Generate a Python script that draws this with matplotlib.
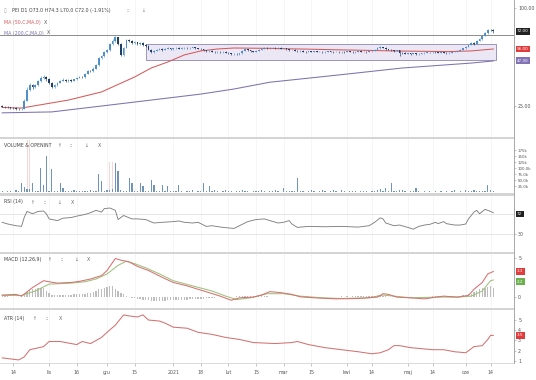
import numpy as np
import pandas as pd
import matplotlib
matplotlib.use("Agg")
import matplotlib.pyplot as plt
from matplotlib.patches import Rectangle
from matplotlib.lines import Line2D
from matplotlib.ticker import NullLocator
import matplotlib.transforms as mtrans

# ---------------- data ----------------
dates = pd.bdate_range("2020-10-08", "2021-06-15")

closes = [24.8, 24.6, 24.5, 24.3, 24.2, 24.0, 23.9, 24.0,
          27.0, 31.5, 33.5, 32.8, 33.6,
          35.5, 37.0, 37.8, 36.5,
          34.5, 32.8, 33.5, 34.8,
          35.8, 36.3, 35.6, 36.0, 35.7,
          36.4, 37.2, 37.8, 37.5,
          39.5, 41.2, 41.0,
          42.5, 44.5,
          49.0, 50.5,
          53.5, 55.0,
          60.0, 63.0, 66.0,
          60.5, 51.8, 57.0,
          63.5, 62.5,
          61.0, 61.5, 60.2, 60.8,
          59.5, 58.8,
          55.5, 53.5, 54.8, 55.6, 56.0, 55.3,
          56.2, 56.8, 56.0, 56.5, 57.0, 56.4, 56.8, 57.2, 56.6, 56.9, 57.3, 56.7, 56.1, 55.8,
          55.0, 54.2, 54.6, 54.0,
          53.6, 53.9, 53.4, 53.8, 53.2,
          52.6, 52.0, 52.4, 52.1, 52.8, 54.5, 55.8,
          55.2, 54.3, 53.8, 54.6,
          55.5, 56.3, 57.0, 56.5, 56.9,
          57.2, 56.6, 57.0, 56.2, 56.5, 55.8, 55.2, 55.6, 54.8, 54.2, 54.6,
          54.0, 53.6, 54.1, 53.8, 54.2, 53.7, 54.0, 53.5, 53.9, 54.2, 53.8,
          53.6, 54.0, 53.4, 53.9, 53.6, 54.2, 53.8, 53.5, 53.9, 54.3, 53.7, 54.0, 53.6, 54.1, 54.5, 55.2,
          56.8, 57.6, 57.0, 56.0,
          55.4, 55.0, 54.5, 55.2,
          53.2,
          53.0, 52.5, 52.8, 52.2, 52.6, 52.0, 52.4, 52.8,
          53.2, 53.6, 53.4, 53.8, 53.3, 53.0, 53.5, 53.2, 52.8, 53.1, 53.6, 54.0, 54.6, 55.4,
          56.5, 57.8, 59.5, 61.0,
          60.2, 63.0, 64.5,
          67.5, 70.0, 73.5,
          73.4, 72.0]
first_open = 25.0
last_open = 73.0

highs = [25.3, 25.0, 24.9, 24.8, 24.6, 24.5, 24.3, 24.4, 27.5, 32.5,
         34.5, 34.2, 34.3, 36.2, 38.0, 38.6, 38.2, 36.9, 35.0, 34.0,
         35.2, 36.3, 36.9, 36.6, 36.5, 36.4, 36.8, 37.6, 38.3, 38.2,
         40.0, 41.8, 41.9, 43.2, 45.3, 49.8, 51.6, 54.4, 56.3, 61.0,
         64.5, 67.5, 66.8, 61.2, 58.0, 64.5, 64.8, 63.3, 62.6, 62.2,
         61.7, 61.4, 60.3, 59.2, 56.2, 55.5, 56.3, 56.8, 56.5, 56.8,
         57.4, 57.2, 57.0, 57.6, 57.4, 57.3, 57.8, 57.6, 57.4, 57.9,
         57.7, 57.1, 56.5, 56.2, 55.4, 55.1, 55.0, 54.4, 54.4, 54.3,
         54.2, 54.1, 53.6, 53.0, 52.9, 52.8, 53.2, 55.0, 56.4, 56.2,
         55.6, 54.7, 55.0, 56.0, 56.8, 57.5, 57.4, 57.4, 57.7, 57.6,
         57.5, 57.3, 57.0, 56.8, 56.1, 56.0, 55.9, 55.2, 55.0, 54.9,
         54.3, 54.5, 54.4, 54.6, 54.5, 54.4, 54.3, 54.3, 54.6, 54.5,
         54.1, 54.4, 54.3, 54.3, 54.2, 54.6, 54.5, 54.1, 54.3, 54.7,
         54.6, 54.4, 54.3, 54.5, 55.0, 55.7, 57.3, 58.3, 58.0, 57.3,
         56.4, 55.8, 55.4, 55.6, 55.5, 53.7, 53.4, 53.2, 53.1, 53.0,
         52.9, 52.8, 53.2, 53.6, 54.0, 53.9, 54.2, 54.1, 53.6, 53.9,
         53.8, 53.5, 53.5, 54.0, 54.4, 55.0, 55.9, 57.0, 58.3, 60.1,
         61.7, 61.6, 63.6, 65.3, 68.2, 71.0, 74.6, 74.8, 74.3]

lows = [24.5, 24.3, 24.2, 24.0, 23.9, 23.7, 23.6, 23.6, 23.9, 26.8,
        31.0, 32.0, 32.4, 33.3, 35.0, 36.5, 35.8, 34.0, 32.2, 32.4,
        33.2, 34.5, 35.4, 35.1, 35.2, 35.3, 35.4, 36.1, 36.9, 37.0,
        37.3, 39.2, 40.4, 40.7, 42.2, 44.2, 48.4, 50.0, 52.8, 54.6,
        59.2, 62.0, 59.0, 50.5, 51.0, 56.5, 61.5, 60.2, 60.3, 59.4,
        59.6, 58.8, 58.0, 55.0, 52.8, 53.0, 54.3, 55.1, 54.8, 55.0,
        55.8, 55.6, 55.6, 56.1, 56.0, 56.0, 56.4, 56.2, 56.2, 56.5,
        56.3, 55.7, 55.3, 54.6, 53.8, 53.9, 53.6, 53.2, 53.2, 53.0,
        53.0, 52.8, 52.2, 51.6, 51.6, 51.7, 51.8, 52.5, 54.2, 54.8,
        53.9, 53.4, 53.5, 54.3, 55.2, 56.0, 56.1, 56.2, 56.6, 56.2,
        56.3, 55.8, 55.9, 55.4, 54.8, 54.9, 54.4, 53.8, 53.9, 53.6,
        53.2, 53.3, 53.4, 53.5, 53.3, 53.4, 53.1, 53.2, 53.6, 53.4,
        53.2, 53.3, 53.0, 53.1, 53.2, 53.3, 53.4, 53.1, 53.2, 53.6,
        53.3, 53.4, 53.2, 53.3, 53.8, 54.2, 55.0, 56.4, 56.5, 55.6,
        55.0, 54.6, 54.0, 54.2, 50.5, 52.5, 52.1, 52.1, 51.8, 51.9,
        51.6, 51.7, 52.0, 52.5, 52.9, 53.0, 53.0, 52.9, 52.6, 52.7,
        52.8, 52.4, 52.5, 52.8, 53.3, 53.7, 54.3, 55.1, 56.2, 57.4,
        59.1, 59.5, 59.8, 62.5, 64.0, 67.0, 69.5, 72.5, 70.0]

volume_k = [3, 2, 5, 3, 2, 10, 3, 38, 20, 12,
            14, 38, 4, 5, 102, 30, 152, 6, 95, 5,
            4, 38, 16, 3, 3, 4, 10, 3, 3, 3,
            4, 3, 10, 4, 5, 73, 45, 6, 8, 10,
            12, 123, 87, 8, 6, 5, 59, 38, 5, 4,
            38, 24, 4, 5, 52, 30, 4, 3, 30, 3,
            24, 3, 3, 4, 30, 3, 2, 3, 3, 10,
            2, 3, 3, 38, 4, 24, 3, 10, 3, 2,
            3, 10, 3, 3, 2, 3, 3, 10, 4, 3,
            2, 3, 3, 3, 10, 3, 2, 3, 3, 10,
            3, 2, 17, 3, 3, 4, 5, 59, 3, 3,
            2, 3, 7, 3, 2, 3, 7, 3, 2, 3,
            7, 3, 2, 7, 3, 2, 3, 6, 3, 2,
            3, 6, 3, 2, 6, 3, 8, 12, 5, 16,
            6, 38, 5, 3, 8, 10, 3, 2, 3, 3,
            16, 3, 2, 3, 2, 3, 2, 3, 2, 5,
            2, 3, 2, 3, 7, 2, 3, 2, 7, 3,
            4, 7, 4, 5, 3, 6, 30, 10, 4]
openint_idx = [9, 10, 39, 40]
openint_k = [218, 218, 125, 125]

ma50_idx = [0, 7, 24, 36, 48, 54, 60, 66, 72, 78, 84, 97, 119, 144, 162, 170, 178]
ma50_val = [24.5, 24.3, 27.2, 30.5, 37.7, 42.8, 46.6, 51.5, 54.5, 56.0, 56.8, 56.5, 55.5, 54.4, 54.0, 54.5, 56.0]
ma200_idx = [0, 18, 36, 54, 72, 84, 97, 122, 145, 170, 178]
ma200_val = [22.7, 23.0, 25.0, 27.2, 29.6, 31.8, 35.0, 38.8, 42.8, 45.9, 47.3]

box_start, box_end = 52, 179
box_low, box_high = 47.8, 60.5
resistance = 68.2

rsi_idx = [0, 2, 5, 7, 8, 9, 11, 13, 15, 16, 17, 20, 22, 25, 27, 30, 32, 34, 36, 37, 39, 41, 42, 44,
           47, 49, 52, 55, 58, 62, 64, 66, 69, 71, 74, 76, 80, 84, 86, 89, 92, 95, 97, 100, 102,
           104, 105, 107, 111, 117, 123, 129, 133, 135, 137, 138, 139, 142, 144, 147, 149, 151,
           153, 155, 157, 158, 160, 161, 164, 166, 168, 169, 171, 172, 173, 175, 177, 178]
rsi_val = [53.4, 50.0, 46.6, 45.2, 63.6, 75.2, 70.5, 75.2, 75.9, 70.5, 60.2, 56.8, 61.6, 63.0, 65.7,
           69.1, 72.5, 77.3, 73.9, 80.7, 82.0, 77.3, 58.9, 67.0, 60.2, 60.2, 58.9, 52.0, 53.4, 54.8,
           56.1, 53.4, 52.0, 53.4, 45.2, 46.6, 43.2, 41.1, 46.6, 54.8, 58.9, 60.2, 56.8, 52.0, 53.4,
           56.8, 50.0, 43.2, 45.2, 44.5, 45.2, 43.8, 46.6, 53.4, 62.3, 60.2, 52.0, 46.6, 47.9, 43.2,
           39.7, 45.2, 47.9, 49.3, 53.4, 50.7, 54.8, 50.7, 47.9, 47.9, 50.0, 60.2, 73.9, 77.3, 70.5,
           79.3, 75.2, 72.5]

macd_idx = [0, 5, 7, 11, 15, 17, 20, 25, 28, 32, 36, 38, 41, 43, 46, 49, 53, 58, 62, 67, 71, 75, 79,
            83, 86, 91, 94, 97, 101, 105, 108, 113, 121, 129, 136, 138, 140, 143, 148, 153, 158,
            160, 165, 169, 171, 174, 176, 178]
macd_val = [0.19, 0.28, 0.05, 1.18, 2.08, 1.94, 1.76, 1.85, 1.99, 2.30, 2.75, 3.42, 5.00, 4.78, 4.55,
            3.96, 3.42, 2.52, 1.85, 1.40, 0.95, 0.51, 0.05, -0.49, -0.17, -0.08, 0.19, 0.64, 0.51,
            0.28, -0.04, -0.17, -0.31, -0.26, -0.08, 0.37, 0.28, -0.08, -0.17, -0.31, -0.04, 0.05,
            -0.08, 0.14, 0.95, 1.85, 2.97, 3.29]
signal_idx = [0, 7, 12, 17, 25, 30, 34, 38, 42, 45, 48, 52, 57, 62, 69, 76, 81, 85, 90, 96, 102,
              108, 116, 123, 133, 138, 142, 148, 158, 165, 170, 174, 177, 178]
signal_val = [0.14, 0.14, 0.73, 1.63, 1.76, 1.94, 2.30, 2.97, 4.10, 4.64, 4.32, 3.78, 2.97, 2.08,
              1.40, 0.73, 0.05, -0.40, -0.17, 0.37, 0.37, 0.05, -0.17, -0.26, -0.17, 0.19, 0.05,
              -0.17, -0.08, -0.08, 0.05, 0.73, 2.08, 2.17]
hist_val = [0.02, 0.02, 0.01, 0.0, 0.0, -0.01, 0.0, 0.05, 0.28, 0.65,
            0.85, 0.95, 1.05, 1.15, 1.18, 1.1, 0.75, 0.4, 0.25, 0.2,
            0.18, 0.17, 0.18, 0.2, 0.19, 0.22, 0.28, 0.3, 0.33, 0.35,
            0.37, 0.4, 0.45, 0.6, 0.75, 0.95, 1.05, 1.18, 1.27, 1.4,
            1.35, 1.0, 0.7, 0.45, 0.28, 0.08, -0.05, -0.15, -0.26, -0.32,
            -0.36, -0.4, -0.45, -0.5, -0.53, -0.57, -0.6, -0.62, -0.58, -0.53,
            -0.51, -0.49, -0.48, -0.46, -0.45, -0.44, -0.42, -0.4, -0.38, -0.35,
            -0.33, -0.31, -0.29, -0.27, -0.26, -0.22, -0.18, -0.15, -0.12, -0.1,
            -0.08, -0.06, -0.04, -0.02, 0.0, 0.02, 0.05, 0.08, 0.1, 0.12,
            0.12, 0.1, 0.08, 0.06, 0.05, 0.03, 0.02, 0.0, -0.02, -0.03,
            -0.04, -0.03, -0.02, -0.04, -0.05, -0.06, -0.05, -0.04, -0.05, -0.04,
            -0.03, -0.03, -0.02, -0.03, -0.02, -0.02, -0.01, -0.02, -0.01, 0.0,
            0.0, -0.01, 0.0, 0.01, 0.0, 0.01, 0.0, 0.01, 0.02, 0.01,
            0.02, 0.01, 0.02, 0.04, 0.08, 0.12, 0.16, 0.15, 0.1, 0.04,
            -0.02, -0.05, -0.07, -0.08, -0.1, -0.1, -0.09, -0.08, -0.07, -0.06,
            -0.05, -0.04, -0.03, -0.02, -0.01, 0.0, 0.01, 0.02, 0.03, 0.03,
            0.04, 0.04, 0.05, 0.05, 0.06, 0.08, 0.1, 0.14, 0.2, 0.3,
            0.37, 0.55, 0.73, 0.95, 1.1, 1.18, 1.27, 1.4, 1.18]

atr_idx = [0, 6, 8, 10, 15, 17, 21, 25, 27, 29, 32, 36, 38, 41, 44, 46, 49, 51, 53, 57, 59, 62, 67,
           71, 76, 81, 86, 91, 99, 105, 107, 111, 117, 123, 129, 134, 137, 140, 142, 144, 148, 152,
           156, 160, 164, 168, 169, 171, 174, 176, 177, 178]
atr_val = [1.3, 1.1, 1.4, 2.1, 2.4, 2.9, 2.9, 2.7, 2.6, 2.9, 2.7, 3.3, 3.8, 4.5, 5.5, 5.4, 5.3, 5.5,
           5.0, 4.9, 4.7, 4.3, 4.2, 3.8, 3.6, 3.3, 3.1, 2.8, 2.7, 2.8, 2.9, 2.6, 2.3, 2.1, 1.9, 1.7,
           1.8, 2.1, 2.5, 2.5, 2.3, 2.2, 2.1, 2.1, 1.9, 1.8, 2.0, 2.4, 2.5, 3.1, 3.5, 3.5]

tick_dates = ["2020-10-14", "2020-11-02", "2020-11-16", "2020-12-01", "2020-12-15", "2021-01-04",
              "2021-01-18", "2021-02-01", "2021-02-15", "2021-03-01", "2021-03-15", "2021-04-01",
              "2021-04-14", "2021-05-03", "2021-05-14", "2021-06-01", "2021-06-14"]
tick_labels = ["14", "lis", "16", "gru", "15", "2021", "18", "lut", "15", "mar", "15", "kwi",
               "14", "maj", "14", "cze", "14"]

header = "PEI D1 O73.0 H74.3 L70.0 C72.0 (-1.91%)"

# ---------------- figure ----------------
W, H = 536, 380
fig = plt.figure(figsize=(W / 100, H / 100), dpi=100)
fig.patch.set_facecolor("white")
RIGHT = 514
FS = 3.4
TXT = "#444444"

n = len(closes)
x = np.arange(n)
opens = [first_open] + closes[:-1]
opens[-1] = last_open
tick_pos = [int(dates.searchsorted(pd.Timestamp(d))) for d in tick_dates]


def panel(top, bottom):
    ax = fig.add_axes([0, 1 - bottom / H, RIGHT / W, (bottom - top) / H])
    ax.set_facecolor("none")
    for s in ax.spines.values():
        s.set_visible(False)
    ax.yaxis.tick_right()
    ax.tick_params(axis="y", which="both", direction="out", length=1.5, width=0.4,
                   colors="#999999", labelsize=FS, pad=1.5, labelcolor="#555555")
    ax.set_xlim(-0.8, 185.5)
    ax.set_xticks(tick_pos)
    ax.tick_params(axis="x", which="both", bottom=False, labelbottom=False)
    ax.grid(axis="x", color="#f1f1f1", lw=0.5)
    ax.set_axisbelow(True)
    return ax


def value_box(ax, y, text, fc, tc="white"):
    tr = mtrans.blended_transform_factory(ax.transAxes, ax.transData)
    ax.text(1.006, y, text, transform=tr, fontsize=3.0, color=tc, va="center", ha="left",
            clip_on=False, bbox=dict(boxstyle="square,pad=0.35", fc=fc, ec="none"))


def ftext(px, py, s, color=TXT, size=FS, **kw):
    fig.text(px / W, 1 - py / H, s, fontsize=size, color=color, va="center", ha="left", **kw)


# price panel
axp = panel(0, 137)
axp.set_yscale("log")
axp.set_ylim(16.13, 112.0)
axp.yaxis.set_minor_locator(NullLocator())
axp.set_yticks([25, 100])
axp.set_yticklabels(["25.00", "100.00"])
axp.add_patch(Rectangle((box_start, box_low), box_end - box_start, box_high - box_low,
                        facecolor="#ebe7f5", edgecolor="#8f86ad", lw=0.6, zorder=1))
axp.axhline(resistance, color="#7a7a7a", lw=0.6, zorder=2)
axp.plot(ma200_idx, ma200_val, color="#7e72ad", lw=0.75, zorder=3)
axp.plot(ma50_idx, ma50_val, color="#d65a5a", lw=0.75, zorder=3)
up = np.array(closes) >= np.array(opens)
ccol = np.where(up, "#4f8fca", "#1f3f66")
axp.vlines(x, lows, highs, colors=ccol, lw=0.45, zorder=4)
axp.bar(x, np.array(closes) - np.array(opens), bottom=opens, width=0.62, color=ccol,
        lw=0, zorder=5)
value_box(axp, closes[-1], f"{closes[-1]:.2f}", "#222222")
value_box(axp, ma50_val[-1], f"{ma50_val[-1]:.2f}", "#e03c3c")
value_box(axp, ma200_val[-1], f"{ma200_val[-1]:.2f}", "#8173b5")

# volume panel
axv = panel(139, 192)
axv.set_ylim(0, 221)
axv.bar(openint_idx, openint_k, width=0.35, color="#f3d6d6", lw=0, zorder=2)
axv.bar(x, volume_k, width=0.45, color="#6f94b8", lw=0, zorder=3)
axv.set_yticks([25, 50, 75, 100, 125, 150, 175])
axv.set_yticklabels(["25.0k", "50.0k", "75.0k", "100.0k", "125k", "150k", "175k"])
axv.tick_params(axis="y", labelsize=2.9, pad=1.2)

# RSI panel
axr = panel(196, 252)
axr.set_ylim(-6, 106)
axr.axhline(70, color="#dddddd", lw=0.5)
axr.axhline(30, color="#dddddd", lw=0.5)
axr.plot(rsi_idx, rsi_val, color="#808080", lw=0.65)
axr.set_yticks([30])
axr.set_yticklabels(["30"])
value_box(axr, 70, f"{rsi_val[-1]:.0f}", "#222222")

# MACD panel
axm = panel(253, 308)
axm.set_ylim(-1.51, 5.72)
axm.bar(x, hist_val, width=0.5, color="#bdbdbd", lw=0, zorder=2)
axm.plot(signal_idx, signal_val, color="#9cc27c", lw=0.75, zorder=3)
axm.plot(macd_idx, macd_val, color="#d87070", lw=0.75, zorder=4)
axm.set_yticks([0, 5])
axm.set_yticklabels(["0", "5"])
value_box(axm, macd_val[-1], f"{macd_val[-1]:.1f}", "#e03c3c")
value_box(axm, signal_val[-1] - 0.2, f"{signal_val[-1]:.1f}", "#6ab04c")

# ATR panel
axa = panel(310, 363)
axa.set_ylim(0.80, 5.98)
axa.plot(atr_idx, atr_val, color="#d27272", lw=0.75)
axa.set_yticks([1, 2, 3, 4, 5])
axa.set_yticklabels(["1", "2", "3", "4", "5"])
value_box(axa, atr_val[-1], f"{atr_val[-1]:.1f}", "#e03c3c")
axa.spines["bottom"].set_visible(True)
axa.spines["bottom"].set_color("#cccccc")
axa.spines["bottom"].set_linewidth(0.5)
axa.tick_params(axis="x", bottom=True, labelbottom=True, length=2, width=0.4,
                colors="#999999", labelsize=FS, labelcolor="#555555", pad=3)
axa.set_xticklabels(tick_labels)

# separators and right axis line
for t, b in [(136.5, 139), (193, 195.5), (251.5, 253.5), (307.8, 310)]:
    fig.add_artist(Rectangle((0, 1 - b / H), RIGHT / W, (b - t) / H, transform=fig.transFigure,
                             facecolor="#d4d4d4", edgecolor="none"))
fig.add_artist(Line2D([RIGHT / W, RIGHT / W], [1, 1 - 363 / H], transform=fig.transFigure,
                      color="#9a9a9a", lw=0.6))

# header texts
ftext(4, 10.5, "▯", color="#999999")
ftext(12.5, 10.5, header)
ftext(126, 10.5, "::", color="#777777")
ftext(141, 10.5, "↓", color="#777777")
ftext(4, 22.5, "MA (50,C,MA,0)", color="#d65a5a")
ftext(44, 22.5, "X", color="#555555")
ftext(4, 33, "MA (200,C,MA,0)", color="#7e72ad")
ftext(47, 33, "X", color="#555555")

for (py, title, icons) in [
    (145.4, "VOLUME & OPENINT", [(57, "↑"), (69, "::"), (84, "↓"), (98, "X")]),
    (202.0, "RSI (14)", [(30, "↑"), (43, "::"), (57, "↓"), (71, "X")]),
    (259.2, "MACD (12,26,9)", [(47, "↑"), (60, "::"), (74, "↓"), (87, "X")]),
    (318.6, "ATR (14)", [(32, "↑"), (45, "::"), (59, "X")]),
]:
    ftext(4, py, title)
    for px, s in icons:
        ftext(px, py, s, color="#666666")

fig.savefig("out.png", dpi=100, facecolor="white")
